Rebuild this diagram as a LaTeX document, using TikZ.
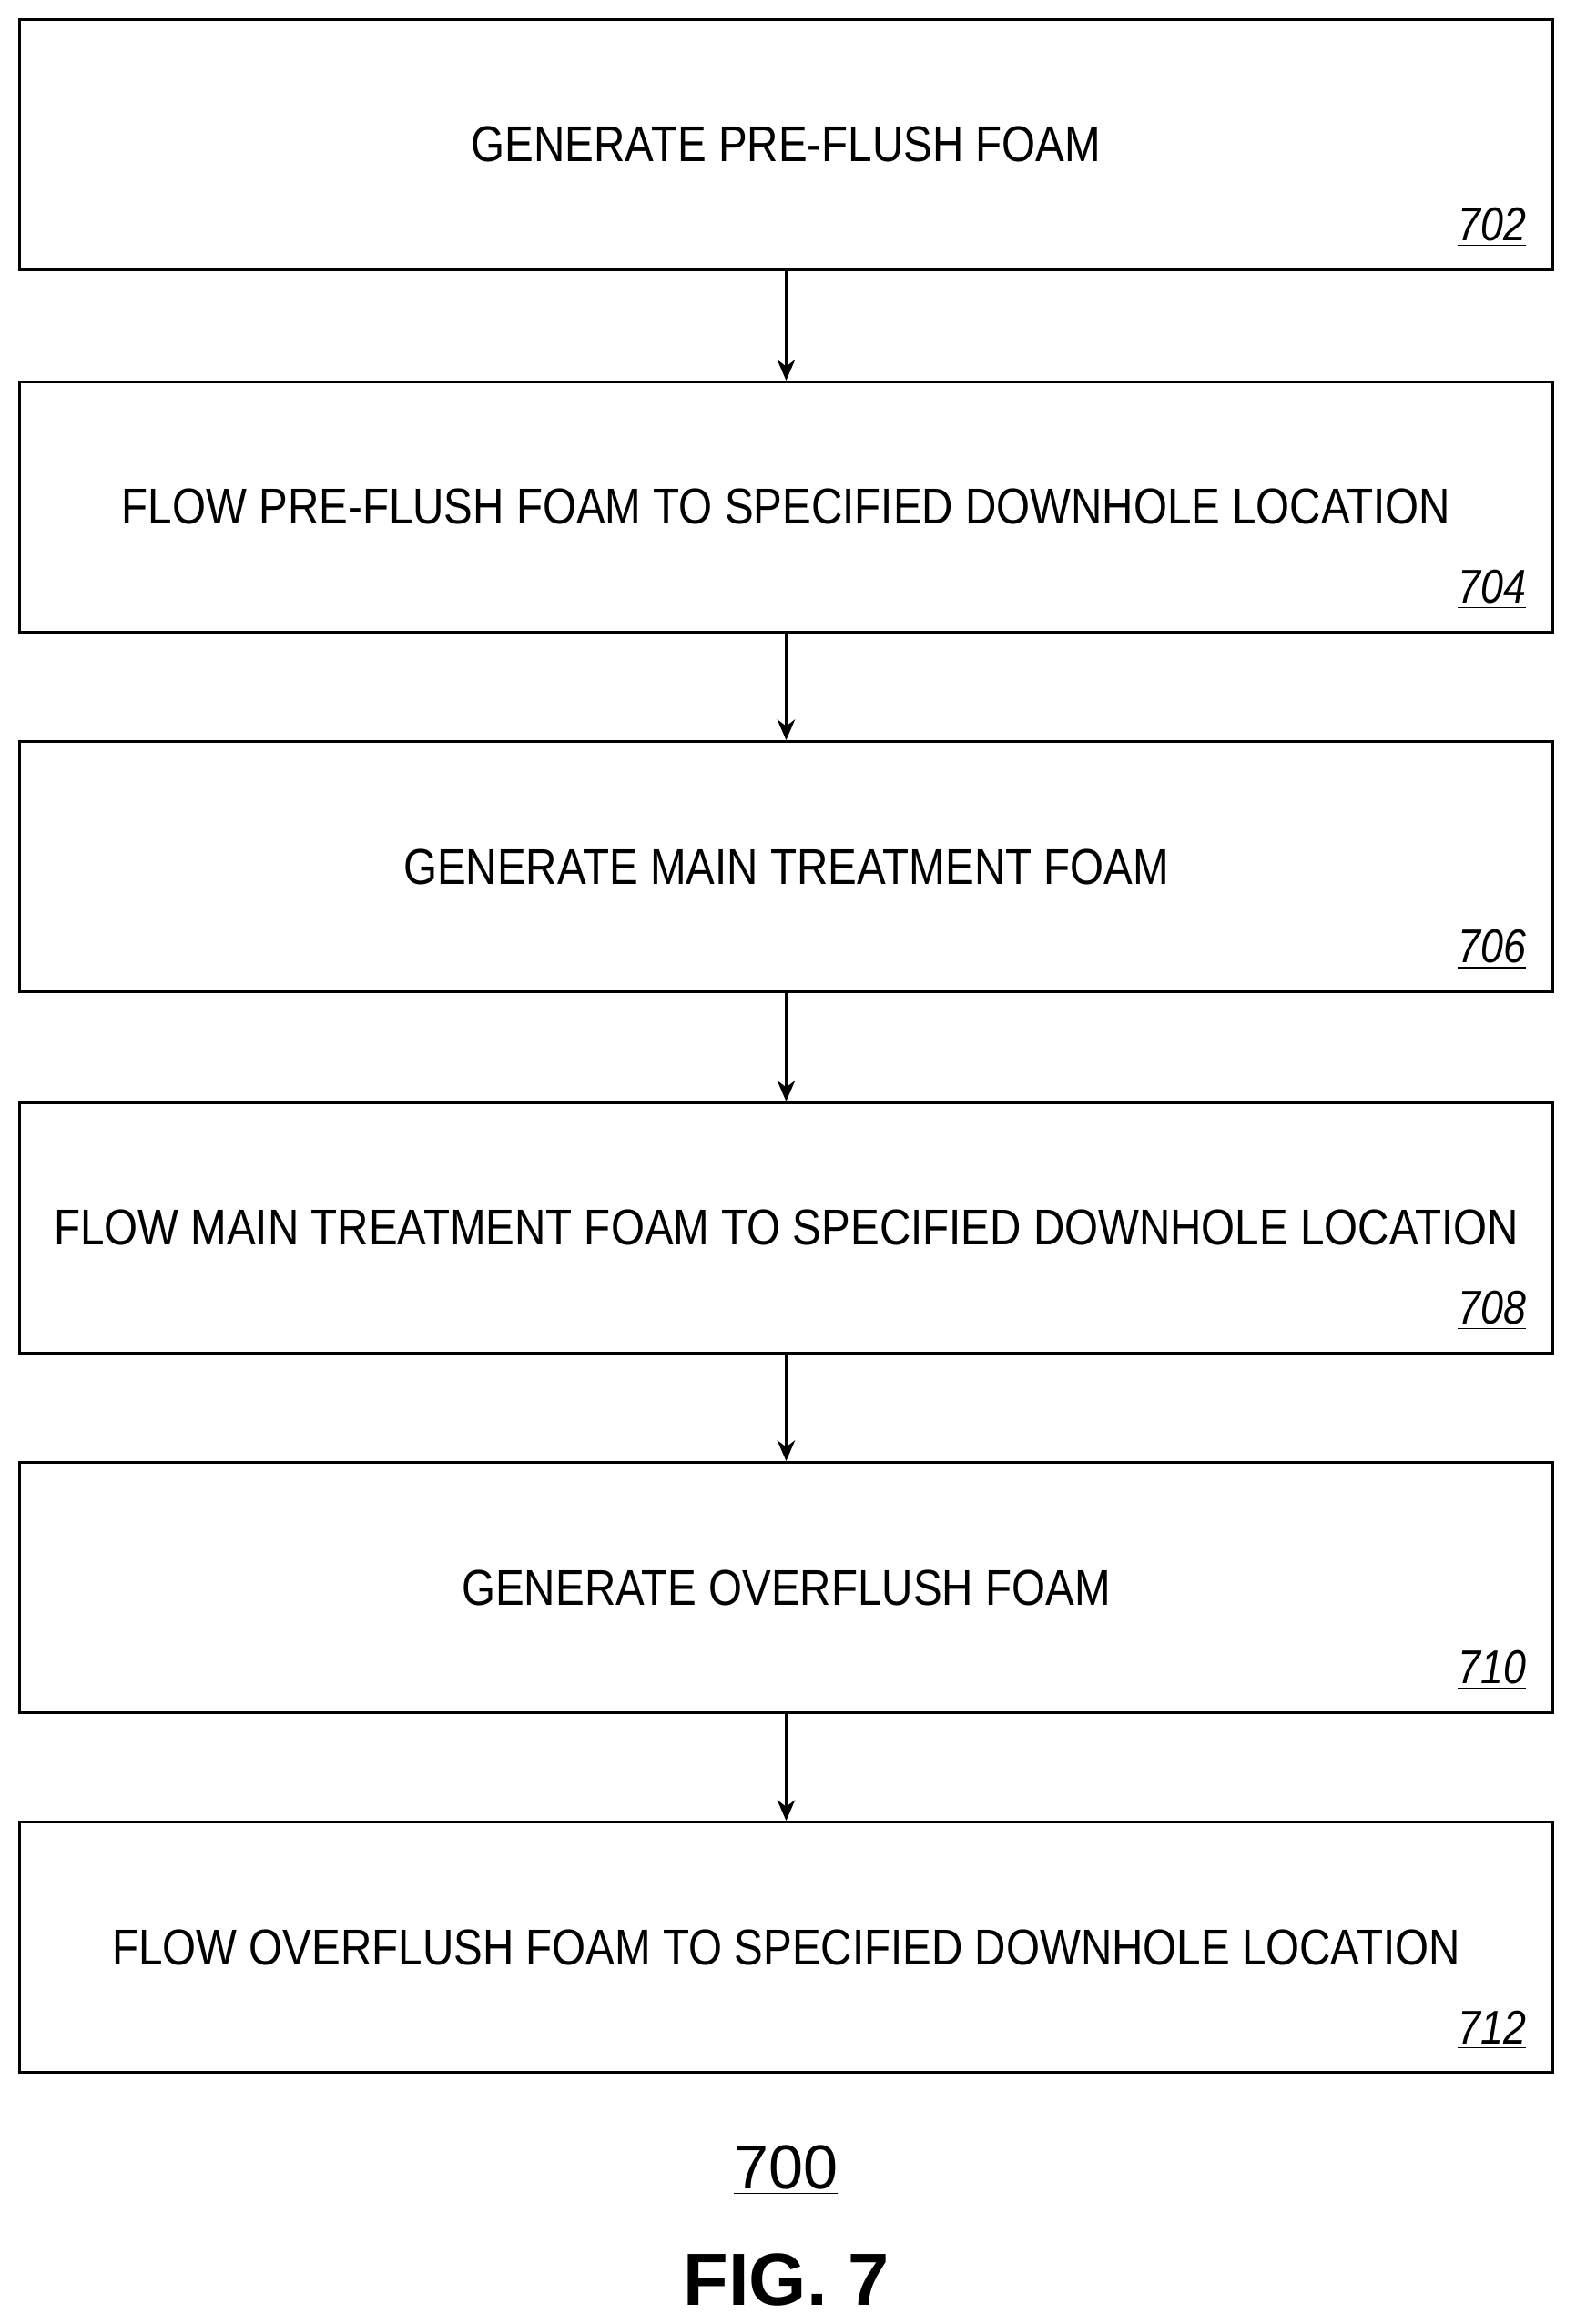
\documentclass[tikz,border=0pt]{standalone}
\usepackage{fontspec}
\setmainfont{Liberation Sans}
\usetikzlibrary{arrows.meta}
\begin{document}
\begin{tikzpicture}[x=0.5pt,y=-0.5pt,
  box/.style={draw,line width=1pt,minimum width=518pt,minimum height=84.5pt,inner sep=0pt},
  lab/.style={font=\fontsize{17}{20}\selectfont,xscale=0.86,inner sep=0pt},
  num/.style={font=\fontsize{16}{19}\selectfont\itshape,xscale=0.86,anchor=east,inner sep=0pt},
  arr/.style={-{Stealth[length=7pt,width=6pt]},line width=0.9pt}]
\useasboundingbox (0,0) rectangle (1064,1570);
\foreach \n/\y/\t/\k in {a/97.5/GENERATE PRE-FLUSH FOAM/702,
  b/342.5/FLOW PRE-FLUSH FOAM TO SPECIFIED DOWNHOLE LOCATION/704,
  c/585.5/GENERATE MAIN TREATMENT FOAM/706,
  d/829.5/FLOW MAIN TREATMENT FOAM TO SPECIFIED DOWNHOLE LOCATION/708,
  e/1072.5/GENERATE OVERFLUSH FOAM/710,
  f/1315.5/FLOW OVERFLUSH FOAM TO SPECIFIED DOWNHOLE LOCATION/712}{
  \node[box] (\n) at (531,\y) {};
  \node[lab] (\n t) at (531,\y) {\t};
  \node[num] (\n n) at (1031,\y+56) {\underline{\k}};
}
\foreach \p/\q in {a/b,b/c,c/d,d/e,e/f} \draw[arr] (\p.south) -- (\q.north);
\node[font=\fontsize{21}{24}\selectfont,inner sep=0pt] (fig) at (531,1466) {\underline{700}};
\node[font=\fontsize{25}{28}\selectfont\bfseries,inner sep=0pt] (t7) at (531,1540) {FIG. 7};
\end{tikzpicture}
\end{document}
